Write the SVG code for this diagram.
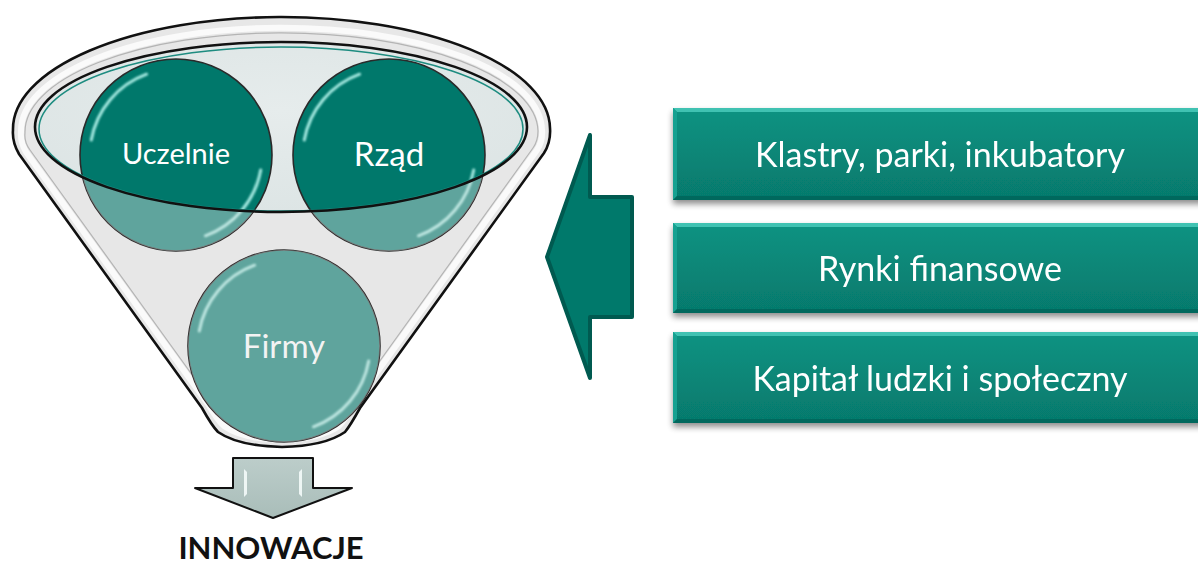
<svg xmlns="http://www.w3.org/2000/svg" width="1198" height="567" viewBox="0 0 1198 567">
  <defs>
    <style>
      .ball { fill: #00786b; stroke: #2a2a2a; stroke-width: 1.6; }
      .gloss { fill: none; stroke: #c4fff7; stroke-width: 3; stroke-linecap: round; opacity: 0.85; filter: url(#soft); }
      .ballText { font-family: Lato, "Open Sans", sans-serif; fill: #ffffff; text-anchor: middle; }
      .boxText { font-family: Lato, "Open Sans", sans-serif; font-size: 34px; fill: #ffffff; text-anchor: middle; }
      .bevelTop { fill: #3fc2b2; }
      .bevelLeft { fill: #17a191; }
      .bevelBottom { fill: #05685d; }
      .rim { fill: none; stroke: #111111; stroke-width: 2.6; }
    </style>
    <filter id="soft" x="-20%" y="-20%" width="140%" height="140%">
      <feGaussianBlur stdDeviation="0.8"/>
    </filter>
    <filter id="shadow" x="-5%" y="-20%" width="110%" height="150%">
      <feGaussianBlur in="SourceAlpha" stdDeviation="3"/>
      <feOffset dx="0" dy="4" result="b"/>
      <feComponentTransfer><feFuncA type="linear" slope="0.45"/></feComponentTransfer>
      <feMerge><feMergeNode/><feMergeNode in="SourceGraphic"/></feMerge>
    </filter>
    <linearGradient id="boxFill" x1="0" y1="0" x2="0" y2="1">
      <stop offset="0" stop-color="#0a9382"/>
      <stop offset="1" stop-color="#06796c"/>
    </linearGradient>
    <linearGradient id="downFill" x1="0" y1="0" x2="0" y2="1">
      <stop offset="0" stop-color="#bccdca"/>
      <stop offset="1" stop-color="#a9bdb9"/>
    </linearGradient>
    <radialGradient id="mouthFill" cx="0.5" cy="0.4" r="0.6">
      <stop offset="0" stop-color="#e6ecec"/>
      <stop offset="1" stop-color="#dde5e5"/>
    </radialGradient>
    <!-- outline of the funnel -->
    <path id="funnelShape" d="M 13,130 A 268.5 112 0 0 1 550,128 Q 551,142 544,153 L 360,408 Q 350,426 345,432 Q 325,446 282,447 Q 238,446 218,432 Q 212,426 202,408 L 19,154 Q 12,142 13,130 Z"/>
    <clipPath id="balls">
      <circle cx="176" cy="155" r="96"/>
      <circle cx="389" cy="155" r="96"/>
      <circle cx="284" cy="346" r="96"/>
    </clipPath>
  </defs>

  <rect width="1198" height="567" fill="#ffffff"/>

  <!-- funnel back and mouth -->
  <g id="funnel">
    <use href="#funnelShape" fill="#e7e7e7"/>
    <path d="M 21,132 A 260 103 0 0 1 542,130 Q 543,141 537,150 L 354,404 Q 344,421 339,426 Q 320,439 282,440 Q 243,439 224,426 Q 218,421 208,404 L 26,152 Q 20,142 21,132 Z" fill="none" stroke="#fafafa" stroke-width="6"/>
    <path d="M 25,133 A 256 99 0 0 1 538,131 Q 538,141 533,148 L 351,401 Q 341,417 336,422 Q 318,435 282,436 Q 245,435 227,422 Q 221,417 211,401 L 30,150 Q 24,142 25,133 Z" fill="none" stroke="#b4b4b4" stroke-width="1.2"/>
    <ellipse cx="281" cy="127" rx="246" ry="85" fill="url(#mouthFill)"/>
  </g>

  <!-- balls inside the funnel -->
  <g id="uczelnie">
    <circle class="ball" cx="176" cy="155" r="96"/>
    <path class="gloss" d="M 91.3,140.1 A 86 86 0 0 1 146.6,74.2"/>
    <path class="gloss" d="M 260.7,169.9 A 86 86 0 0 1 205.4,235.8"/>
    <text class="ballText" x="176" y="164" font-size="29">Uczelnie</text>
  </g>
  <g id="rzad">
    <circle class="ball" cx="389" cy="155" r="96"/>
    <path class="gloss" d="M 304.3,140.1 A 86 86 0 0 1 359.6,74.2"/>
    <path class="gloss" d="M 473.7,169.9 A 86 86 0 0 1 418.4,235.8"/>
    <text class="ballText" x="389" y="166" font-size="33">Rząd</text>
  </g>
  <g id="firmy">
    <circle class="ball" cx="284" cy="346" r="96"/>
    <path class="gloss" d="M 199.3,331.1 A 86 86 0 0 1 254.6,265.2"/>
    <path class="gloss" d="M 368.7,360.9 A 86 86 0 0 1 313.4,426.8"/>
    <text class="ballText" x="284" y="358" font-size="33">Firmy</text>
  </g>

  <!-- front wall of the funnel dims the balls below the mouth -->
  <g id="funnelFront">
    <path clip-path="url(#balls)" fill-rule="evenodd" fill="#e2e2e2" fill-opacity="0.42"
          d="M 0,0 H 560 V 460 H 0 Z M 35,127 A 246 85 0 1 0 527,127 A 246 85 0 1 0 35,127 Z"/>
    <ellipse cx="281" cy="129" rx="242" ry="82" fill="none" stroke="#1d8c80" stroke-width="1.5"/>
    <ellipse class="rim" cx="281" cy="127" rx="246" ry="85"/>
    <use href="#funnelShape" class="rim"/>
  </g>

  <!-- connectors -->
  <g id="connectors">
    <path id="arrowIn" d="M 547,257 L 590,135 L 590,197 L 632,197 L 632,317 L 590,317 L 590,378 Z" fill="#00796b" stroke="#005a50" stroke-width="4" stroke-linejoin="round"/>
    <g id="arrowOut">
      <path d="M 233,458 L 313,458 L 313,488 L 352,488 L 273,518 L 195,488 L 233,488 Z" fill="url(#downFill)" stroke="#111111" stroke-width="2" stroke-linejoin="round"/>
      <path d="M 244,469 L 247,472 L 247,494 L 244,497 Z" fill="#f4fbfa" opacity="0.9"/>
      <path d="M 302,469 L 299,472 L 299,494 L 302,497 Z" fill="#f4fbfa" opacity="0.9"/>
    </g>
  </g>

  <g id="innowacje">
    <text x="271" y="559" font-family="Lato, 'Open Sans', sans-serif" font-weight="bold" font-size="31" fill="#111111" text-anchor="middle">INNOWACJE</text>
  </g>

  <!-- factor boxes -->
  <g id="box1" filter="url(#shadow)">
    <rect x="673" y="108" width="534" height="92" fill="url(#boxFill)"/>
    <polygon class="bevelTop" points="673,108 1207,108 1203,112 677,112"/>
    <polygon class="bevelLeft" points="673,108 677,112 677,196 673,200"/>
    <polygon class="bevelBottom" points="673,200 677,196 1203,196 1207,200"/>
    <text class="boxText" x="940" y="167">Klastry, parki, inkubatory</text>
  </g>
  <g id="box2" filter="url(#shadow)">
    <rect x="673" y="223" width="534" height="90" fill="url(#boxFill)"/>
    <polygon class="bevelTop" points="673,223 1207,223 1203,227 677,227"/>
    <polygon class="bevelLeft" points="673,223 677,227 677,309 673,313"/>
    <polygon class="bevelBottom" points="673,313 677,309 1203,309 1207,313"/>
    <text class="boxText" x="940" y="281">Rynki finansowe</text>
  </g>
  <g id="box3" filter="url(#shadow)">
    <rect x="673" y="332" width="534" height="91" fill="url(#boxFill)"/>
    <polygon class="bevelTop" points="673,332 1207,332 1203,336 677,336"/>
    <polygon class="bevelLeft" points="673,332 677,336 677,419 673,423"/>
    <polygon class="bevelBottom" points="673,423 677,419 1203,419 1207,423"/>
    <text class="boxText" x="940" y="391">Kapitał ludzki i społeczny</text>
  </g>
</svg>
